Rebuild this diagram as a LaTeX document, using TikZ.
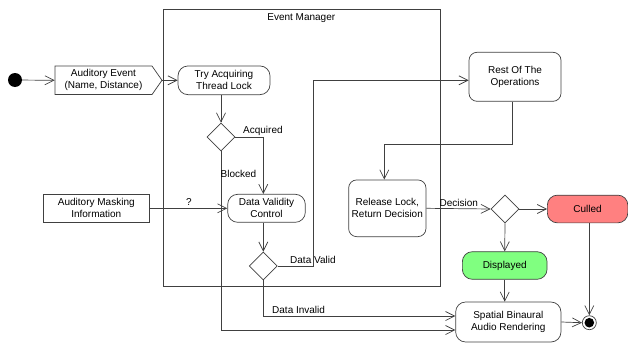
\documentclass[tikz,border=0pt]{standalone}
\usepackage{fontspec}
\setmainfont{Liberation Sans}
\usetikzlibrary{arrows.meta,shapes.geometric,shapes.symbols,calc}
\definecolor{ln}{HTML}{404040}
\definecolor{cullred}{HTML}{FF8080}
\definecolor{dispgreen}{HTML}{80FF80}
\tikzset{
  every node/.style={font=\fontsize{10}{12}\selectfont, text=black, inner sep=0pt},
  arr/.style={draw=ln, line width=0.7pt, -{Straight Barb[length=9pt,width=9pt]}},
  act/.style={draw=ln, line width=0.7pt, rounded corners=8pt, align=center},
  obj/.style={draw=ln, line width=0.7pt, rectangle, align=center},
  dec/.style={draw=ln, line width=0.7pt, diamond, minimum width=28pt, minimum height=28pt, inner sep=0pt},
  lbl/.style={anchor=west}
}
\begin{document}
\begin{tikzpicture}[x=1pt,y=-1pt]
\useasboundingbox (0,0) rectangle (628,345);
% container
\node[draw=ln, line width=0.7pt, minimum width=276.5pt, minimum height=277.4pt] (em) at (301.75,148) {};
\node (emlbl) at (301.3,18.3) {Event Manager};
% nodes
\node[circle, fill=black, minimum size=14pt] (start) at (15,80) {};
\node[signal, signal to=east, signal pointer angle=110, draw=ln, line width=0.7pt, minimum width=107pt, minimum height=28.5pt, align=center] (ev) at (103.5,80.3) {Auditory Event\\(Name, Distance)};
\node[act, minimum width=92pt, minimum height=28.7pt, rounded corners=10pt] (try) at (224,80.3) {Try Acquiring\\Thread Lock};
\node[dec] (d1) at (221,137) {};
\node[act, minimum width=77.6pt, minimum height=28pt, rounded corners=10pt] (dvc) at (266.5,208.3) {Data Validity\\Control};
\node[obj, minimum width=106pt, minimum height=28pt] (amask) at (96.3,208.3) {Auditory Masking\\Information};
\node[dec] (d2) at (263.3,266) {};
\node[act, minimum width=92pt, minimum height=49pt] (rest) at (515,76.8) {Rest Of The\\Operations};
\node[act, minimum width=77.3pt, minimum height=56.7pt] (rel) at (387.3,208.3) {Release Lock,\\Return Decision};
\node[dec] (d3) at (505,209) {};
\node[act, fill=cullred, minimum width=80.5pt, minimum height=27.7pt, rounded corners=10pt] (culled) at (587.6,209) {Culled};
\node[act, fill=dispgreen, minimum width=84.7pt, minimum height=27.6pt, rounded corners=10pt] (disp) at (504.7,265.5) {Displayed};
\node[act, minimum width=105.3pt, minimum height=40pt, rounded corners=10pt] (spat) at (508.3,322) {Spatial Binaural\\Audio Rendering};
\node[circle, draw=ln, line width=0.7pt, minimum size=14pt, fill=white] (endn) at (589.3,322.7) {};
\fill[black] (endn.center) circle (4.8pt);
% connectors
\draw[arr] (start) -- (ev.west);
\draw[arr] (ev.east) -- (try.west);
\draw[arr] ($(try.south)+(-3,0)$) -- (d1.north);
\draw[arr] (d1.east) -| (d2.north |- dvc.north);
\draw[arr] (d1.south) |- ($(spat.west)+(0,8)$);
\draw[arr] (amask.east) -- (dvc.west);
\draw[arr] (d2.north |- dvc.south) -- (d2.north);
\coordinate (dvx) at (313.3,266);
\draw[arr] (d2.east) -- (dvx) |- ($(rest.west)+(0,3.5)$);
\draw[arr] (d2.south) |- ($(spat.west)+(0,-6)$);
\draw[arr] ($(rest.south)+(-3,0)$) |- ($(rel.north)+(-3,-35)$) -- ($(rel.north)+(-3,0)$);
\draw[arr] (rel.east) -- (d3.west);
\draw[arr] (d3.east) -- (culled.west);
\draw[arr] (d3.south) -- (disp.north);
\draw[arr] (disp.south) -- (disp.south |- spat.north);
\draw[arr] (culled.south -| endn.north) -- (endn.north);
\draw[arr] (spat.east) -- (endn.west);
% labels
\node[lbl] (lacq) at (243,131) {Acquired};
\node[lbl] (lblk) at (220.5,174) {Blocked};
\node (lq) at (189,202) {?};
\node[lbl] (ldv) at (290,260) {Data Valid};
\node[lbl] (ldi) at (272,310) {Data Invalid};
\node[lbl] (ldec) at (439.5,203) {Decision};
\end{tikzpicture}
\end{document}
